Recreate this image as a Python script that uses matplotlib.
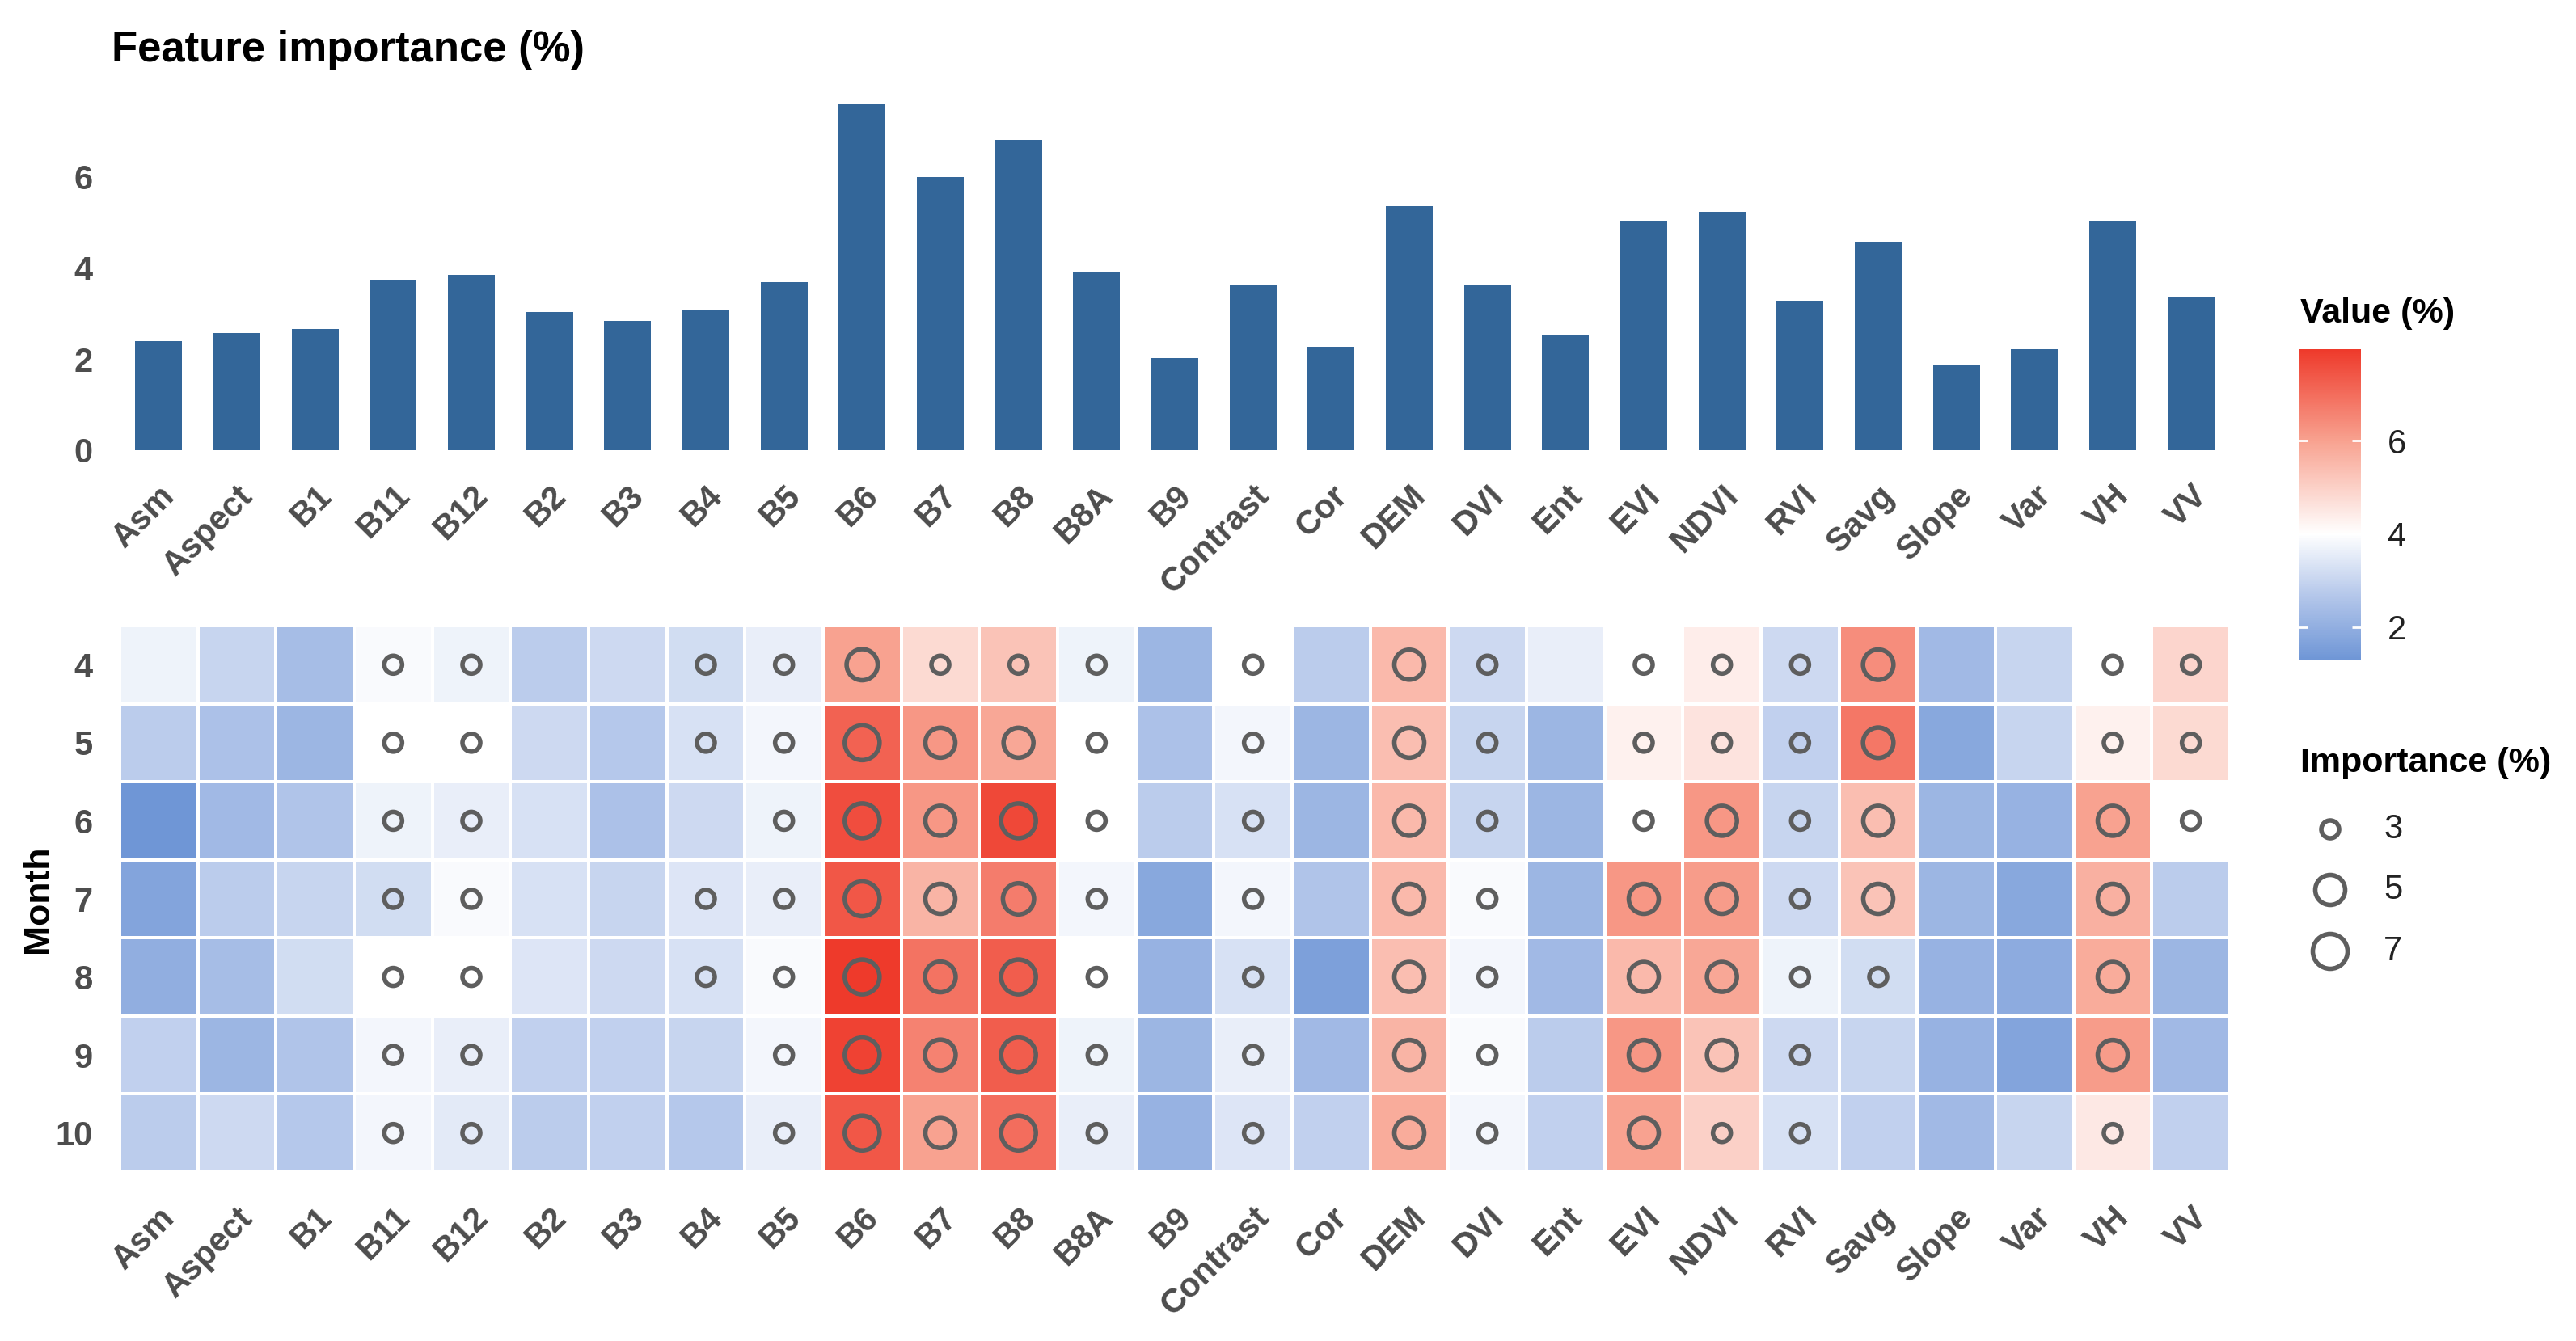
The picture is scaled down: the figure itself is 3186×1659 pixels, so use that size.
import numpy as np
import matplotlib
matplotlib.use("Agg")
import matplotlib.pyplot as plt
from matplotlib.colors import LinearSegmentedColormap, Normalize

features = ["Asm", "Aspect", "B1", "B11", "B12", "B2", "B3", "B4", "B5", "B6",
            "B7", "B8", "B8A", "B9", "Contrast", "Cor", "DEM", "DVI", "Ent",
            "EVI", "NDVI", "RVI", "Savg", "Slope", "Var", "VH", "VV"]
months = [4, 5, 6, 7, 8, 9, 10]

# overall feature importance (%)
overall = [2.39, 2.56, 2.65, 3.72, 3.84, 3.03, 2.83, 3.07, 3.68, 7.58,
           5.98, 6.80, 3.91, 2.02, 3.62, 2.26, 5.34, 3.63, 2.51,
           5.03, 5.22, 3.28, 4.56, 1.86, 2.21, 5.03, 3.36]

# monthly value (%) per feature
value_4 = [3.7, 3.0, 2.4, 3.9, 3.7, 2.8, 3.1, 3.2, 3.6, 6.0, 4.8, 5.3, 3.7, 2.2,
           4.0, 2.8, 5.5, 3.1, 3.6, 4.0, 4.4, 3.1, 6.4, 2.3, 3.0, 4.0, 4.9]
value_5 = [2.8, 2.5, 2.2, 4.0, 4.0, 3.1, 2.7, 3.3, 3.8, 7.2, 6.2, 5.9, 4.0, 2.5,
           3.8, 2.2, 5.4, 3.0, 2.2, 4.3, 4.6, 2.9, 6.8, 1.8, 3.0, 4.3, 4.8]
value_6 = [1.3, 2.3, 2.6, 3.7, 3.6, 3.3, 2.5, 3.1, 3.7, 7.6, 6.2, 7.7, 4.0, 2.8,
           3.3, 2.2, 5.5, 3.0, 2.2, 4.0, 6.2, 3.0, 5.4, 2.2, 2.1, 6.0, 4.0]
value_7 = [1.7, 2.8, 3.0, 3.2, 3.9, 3.3, 3.0, 3.4, 3.6, 7.4, 5.6, 6.7, 3.8, 1.8,
           3.8, 2.6, 5.5, 3.9, 2.2, 6.2, 6.1, 3.1, 5.3, 2.2, 1.8, 5.7, 2.8]
value_8 = [2.0, 2.4, 3.2, 4.0, 4.0, 3.4, 3.1, 3.3, 3.9, 7.97, 6.9, 7.3, 4.0, 2.1,
           3.3, 1.6, 5.4, 3.8, 2.3, 5.5, 5.9, 3.7, 3.2, 2.1, 1.9, 5.8, 2.2]
value_9 = [2.9, 2.2, 2.6, 3.8, 3.6, 2.9, 2.9, 3.0, 3.8, 7.8, 6.6, 7.3, 3.7, 2.2,
           3.6, 2.3, 5.6, 3.9, 2.8, 6.2, 5.3, 3.1, 3.0, 2.1, 1.7, 6.1, 2.3]
value_10 = [2.8, 3.1, 2.7, 3.8, 3.5, 2.8, 2.9, 2.7, 3.6, 7.4, 6.0, 7.0, 3.6, 2.1,
            3.4, 2.9, 5.8, 3.8, 2.9, 6.0, 5.0, 3.3, 2.9, 2.3, 3.0, 4.5, 2.9]

# monthly importance (%) shown as rings, None = no ring
N = None
imp_4 = [N, N, N, 3, 3, N, N, 3, 3, 5.5, 3, 3, 3, N,
         3, N, 5.0, 3, N, 3, 3, 3, 5.2, N, N, 3, 3]
imp_5 = [N, N, N, 3, 3, N, N, 3, 3, 7, 5, 5, 3, N,
         3, N, 5.0, 3, N, 3, 3, 3, 5.2, N, N, 3, 3]
imp_6 = [N, N, N, 3, 3, N, N, N, 3, 7, 5, 7, 3, N,
         3, N, 5.0, 3, N, 3, 5, 3, 5, N, N, 5, 3]
imp_7 = [N, N, N, 3, 3, N, N, 3, 3, 7, 5, 5.5, 3, N,
         3, N, 5.0, 3, N, 5, 5, 3, 5, N, N, 5, N]
imp_8 = [N, N, N, 3, 3, N, N, 3, 3, 7.2, 5.3, 7, 3, N,
         3, N, 5.0, 3, N, 5, 5, 3, 3, N, N, 5, N]
imp_9 = [N, N, N, 3, 3, N, N, N, 3, 7, 5.3, 7, 3, N,
         3, N, 5.0, 3, N, 5, 5, 3, N, N, N, 5, N]
imp_10 = [N, N, N, 3, 3, N, N, N, 3, 7, 5, 7, 3, N,
          3, N, 5.0, 3, N, 5, 3, 3, N, N, N, 3, N]

legend_sizes = [3, 5, 7]

values = np.array([value_4, value_5, value_6, value_7, value_8, value_9, value_10], dtype=float)
importance = np.array([imp_4, imp_5, imp_6, imp_7, imp_8, imp_9, imp_10], dtype=float)

W, H = 3186, 1659
DPI = 200
plt.rcParams["font.family"] = ["Liberation Sans", "DejaVu Sans"]

fig = plt.figure(figsize=(W / DPI, H / DPI), dpi=DPI)


def box(left, top, right, bottom):
    return [left / W, 1 - bottom / H, (right - left) / W, (bottom - top) / H]


def ring_size(v):
    # outer diameter in px -> marker size in pt^2 (stroke centred)
    d_px = np.interp(v, [3, 5, 7], [27, 42, 48]) - 5
    return (d_px * 72 / DPI) ** 2


tick_grey = "#4d4d4d"
ring_col = "#5e5e5e"
x = np.arange(len(features))

# ---- bar chart ----
ax1 = fig.add_axes(box(148, 122, 2758, 557))
ax1.bar(x, overall, width=0.6, color="#336699")
ax1.set_xlim(-0.5, len(features) - 0.5)
ax1.set_ylim(0, 7.7)
ax1.set_yticks([0, 2, 4, 6])
ax1.set_xticks(x)
ax1.set_xticklabels(features, rotation=45, ha="right", va="top", rotation_mode="anchor")
for s in ax1.spines.values():
    s.set_visible(False)
ax1.tick_params(length=0, labelsize=15, labelcolor=tick_grey)
ax1.tick_params(axis="x", pad=13)
ax1.tick_params(axis="y", pad=12)
for lab in ax1.get_xticklabels() + ax1.get_yticklabels():
    lab.set_fontweight("bold")

# ---- heatmap ----
lo, hi, mid = np.nanmin(values), np.nanmax(values), 4.0
pmid = (mid - lo) / (hi - lo)
cmap = LinearSegmentedColormap.from_list(
    "bwr_gg",
    [(0.0, "#6f96d6"), (pmid / 2, "#b3c6ea"), (pmid, "#ffffff"),
     (pmid + (1 - pmid) / 2, "#f8a391"), (1.0, "#ee3a2b")])
norm = Normalize(vmin=lo, vmax=hi)

ax2 = fig.add_axes(box(148, 774, 2758, 1450))
mesh = ax2.pcolormesh(np.arange(len(features) + 1) - 0.5, np.arange(len(months) + 1) - 0.5,
                      values, cmap=cmap, norm=norm, edgecolors="white", linewidth=0.8)
yy, xx = np.nonzero(~np.isnan(importance))
ax2.scatter(xx, yy, s=ring_size(importance[yy, xx]), facecolors="none",
            edgecolors=ring_col, linewidths=2.0, zorder=3)
ax2.set_xlim(-0.5, len(features) - 0.5)
ax2.set_ylim(len(months) - 0.5, -0.5)
ax2.set_xticks(x)
ax2.set_xticklabels(features, rotation=45, ha="right", va="top", rotation_mode="anchor")
ax2.set_yticks(np.arange(len(months)))
ax2.set_yticklabels([str(m) for m in months])
for s in ax2.spines.values():
    s.set_visible(False)
ax2.tick_params(length=0, labelsize=15, labelcolor=tick_grey)
ax2.tick_params(axis="x", pad=13)
ax2.tick_params(axis="y", pad=12)
for lab in ax2.get_xticklabels() + ax2.get_yticklabels():
    lab.set_fontweight("bold")

# ---- colour bar ----
cax = fig.add_axes(box(2843, 432, 2920, 816))
cb = fig.colorbar(mesh, cax=cax)
cb.outline.set_visible(False)
cb.set_ticks([2, 4, 6])
cax.tick_params(direction="in", color="white", length=4, width=1,
                left=True, right=True, labelsize=15, labelcolor="#222222", pad=12)

# ---- text and size legend ----
lay = fig.add_axes([0, 0, 1, 1], zorder=-1)
lay.set_xlim(0, W)
lay.set_ylim(H, 0)
lay.axis("off")
lay.text(138, 62, "Feature importance (%)", fontsize=19, fontweight="bold", ha="left", va="center")
lay.text(48, 1112, "Month", fontsize=16, fontweight="bold", rotation=90, ha="center", va="center")
lay.text(2845, 388, "Value (%)", fontsize=15.5, fontweight="bold", ha="left", va="center")
lay.text(2845, 944, "Importance (%)", fontsize=15.5, fontweight="bold", ha="left", va="center")
leg_y = [1026, 1101, 1177]
lay.scatter([2882] * len(legend_sizes), leg_y, s=ring_size(np.array(legend_sizes, dtype=float)),
            facecolors="none", edgecolors=ring_col, linewidths=2.0)
for v, ly in zip(legend_sizes, leg_y):
    lay.text(2948, ly, str(v), fontsize=15, color="#222222", ha="left", va="center")

fig.savefig("out.png", dpi=DPI)
